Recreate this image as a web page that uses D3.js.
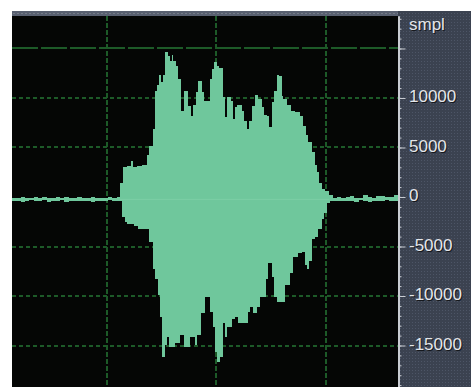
<!DOCTYPE html>
<html>
<head>
<meta charset="utf-8">
<script src="https://cdn.jsdelivr.net/npm/d3@7"></script>
<style>
  html, body { margin: 0; padding: 0; background: #ffffff; overflow: hidden; }
  svg { display: block; }
</style>
</head>
<body>
<svg id="chart" width="471" height="387"></svg>
<script>
// Peak envelope of the recording: each step starts at the given time (ms)
// and holds the positive / negative peak sample value until the next step.
const upperTimes = [
  13.2, 17, 21, 25, 29, 33, 37, 41, 45, 49, 53, 57, 61, 65, 69, 73, 77, 81, 85, 89, 93, 97, 101, 105, 109,
  111.9, 114.3, 118.0, 121.6, 123.5, 127.1, 131.7, 136.3, 138.6, 141.7, 143.8, 145.9, 147.8, 149.0, 150.9,
  153.0, 156.0, 157.5, 159.1, 160.5, 162.8, 165.1, 167.3, 170.3, 174.2, 176.4, 178.3, 181.3, 183.4, 186.5,
  188.6, 194.1, 195.6, 197.7, 200.2, 202.6, 205.7, 207.8, 209.3, 213.0, 214.8, 216.9, 218.4, 223.0, 225.1,
  227.6, 230.0, 232.1, 235.2, 238.2, 241.3, 243.4, 245.8, 248.2, 250.4, 252.5, 255.0, 257.4, 259.5, 261.0,
  264.1, 267.8, 271.7, 276.3, 279.3, 281.7, 283.8, 287.0, 290.0, 292.1, 293.9, 296.1, 299.1, 303.0,
  306.7, 310, 314, 318, 322, 326, 330, 334, 338, 342, 346, 350, 354, 358, 362, 365.8
];
const upperPeaks = [
  -60, -120, -20, -90, -150, -40, -100, 10, -80, -130, -50, -110, -30, -140, -70, -20, -120, -90, -40, -150, -60, -100, -10, -80, -50,
  1460, 2980, 3080, 3590, 2980, 3080, 3280, 4290, 5100, 6820, 10660, 11360, 12370, 11570, 12370,
  14600, 14190, 13690, 14390, 13690, 13180, 11870, 8640, 10660, 9140, 8130, 9340, 10560, 11670, 10560,
  9650, 11870, 12880, 13590, 13180, 12980, 10050, 8030, 10050, 9650, 7830, 9040, 9340, 8640, 7630,
  6820, 7630, 9140, 10350, 9850, 9040, 8330, 8130, 7020, 9550, 10660, 12370, 12270, 10150, 9850,
  9340, 8640, 8540, 8130, 7120, 6310, 5510, 4500, 3280, 2480, 1460, 760, 560, 250,
  -80, -20, -110, -40, 120, -60, -130, 200, -30, -100, 90, 150, -50, -20, 250, 250
];
const lowerTimes = [
  13.2, 17, 21, 25, 29, 33, 37, 41, 45, 49, 53, 57, 61, 65, 69, 73, 77, 81, 85, 89, 93, 97, 101, 105, 109,
  113.4, 116.4, 118.3, 124.7, 128.3, 138.6, 142.3, 143.8, 146.8, 148.4, 149.9, 153.0, 155.1, 156.9, 162.1,
  166.7, 170.3, 175.8, 180.4, 182.5, 185.6, 189.5, 194.1, 196.5, 198.6, 200.7, 203.2, 205.7, 207.8, 209.9,
  213.9, 216.9, 220.0, 229.0, 230.6, 233.6, 236.7, 239.7, 245.2, 247.3, 250.4, 252.5, 255.5, 262.6, 267.1,
  270.1, 274.7, 277.8, 280.8, 282.9, 284.7, 286.9, 290.0, 293.0, 296.1, 298.2, 300.6, 303.6,
  306.7, 310, 314, 318, 322, 326, 330, 334, 338, 342, 346, 350, 354, 358, 362, 365.8
];
const lowerPeaks = [
  -420, -360, -470, -380, -330, -450, -400, -350, -460, -390, -420, -340, -480, -370, -410, -450, -360, -430, -470, -380, -400, -440, -350, -420, -390,
  -1970, -2480, -2680, -2880, -3280, -4500, -7320, -8330, -9850, -12070, -16210, -14900, -14090, -15200, -14700,
  -13890, -15200, -14090, -14900, -13890, -11670, -10050, -11570, -13180, -15610, -16620, -16210, -12680, -14190, -13180,
  -12370, -12170, -12680, -11570, -11160, -11670, -11160, -10050, -8330, -6620, -8030, -10150, -10560, -8840, -7630,
  -6010, -5610, -5510, -6820, -7320, -6510, -4290, -4090, -3280, -2270, -1570, -560, -420,
  -400, -450, -360, -430, -380, -470, -340, -420, -460, -370, -430, -390, -350, -440, -400, -400
];

// Visible window of the editor: time span (ms) and sample range
const viewTime = [13.2, 365.8];
const viewSamples = [18280, -19190];
const dcOffset = -240;

const gridTimes = [100, 200, 300];
const gridSamples = [15000, 10000, 5000, -5000, -10000, -15000];
const majorTicks = [15000, 10000, 5000, 0, -5000, -10000, -15000];
const labelTicks = [10000, 5000, 0, -5000, -10000, -15000];
const labelText = ["10000", "5000", "0", "-5000", "-10000", "-15000"];
const unitLabel = "smpl";

// ---- layout ----
const plot = { left: 12, right: 398, top: 16, bottom: 387 };
const svg = d3.select("#chart");

const defs = svg.append("defs");
const panelPat = defs.append("pattern").attr("id", "panelDots")
  .attr("width", 3).attr("height", 3).attr("patternUnits", "userSpaceOnUse");
panelPat.append("rect").attr("width", 3).attr("height", 3).attr("fill", "#3b4250");
panelPat.append("rect").attr("x", 1).attr("y", 1).attr("width", 1).attr("height", 1).attr("fill", "#4d5566");

const stripPat = defs.append("pattern").attr("id", "stripDots")
  .attr("width", 4).attr("height", 3).attr("patternUnits", "userSpaceOnUse");
stripPat.append("rect").attr("width", 4).attr("height", 3).attr("fill", "#596070");
stripPat.append("rect").attr("x", 1).attr("y", 1).attr("width", 2).attr("height", 1).attr("fill", "#747b88");

// top strip and right-hand ruler panel
svg.append("rect").attr("x", plot.left).attr("y", 11).attr("width", 471 - plot.left).attr("height", plot.top - 11)
  .attr("fill", "url(#stripDots)");
svg.append("rect").attr("x", plot.right).attr("y", 11).attr("width", 471 - plot.right).attr("height", 387 - 11)
  .attr("fill", "url(#panelDots)");

// waveform background
svg.append("rect").attr("x", plot.left).attr("y", plot.top)
  .attr("width", plot.right - plot.left).attr("height", plot.bottom - plot.top)
  .attr("fill", "#050605");

const x = d3.scaleLinear().domain(viewTime).range([plot.left, plot.right]);
const y = d3.scaleLinear().domain(viewSamples).range([plot.top, plot.bottom]);

// grid
const grid = svg.append("g").attr("stroke", "#1d5a28").attr("stroke-width", 2).attr("fill", "none");
grid.selectAll("line.h").data(gridSamples).join("line")
  .attr("class", "h")
  .attr("x1", plot.left).attr("x2", plot.right)
  .attr("y1", d => Math.round(y(d))).attr("y2", d => Math.round(y(d)))
  .attr("stroke-dasharray", d => d === 15000 ? "26,3" : "4,3");
grid.selectAll("line.v").data(gridTimes).join("line")
  .attr("class", "v")
  .attr("x1", d => Math.round(x(d))).attr("x2", d => Math.round(x(d)))
  .attr("y1", plot.top).attr("y2", plot.bottom)
  .attr("stroke-dasharray", "5,2");

// waveform envelope
const upper = upperTimes.map((t, i) => ({ t, v: upperPeaks[i] }));
const lower = lowerTimes.map((t, i) => ({ t, v: lowerPeaks[i] }));
const waveFill = "#6fc79c";

const upperArea = d3.area().curve(d3.curveStepAfter)
  .x(d => x(d.t)).y0(y(dcOffset)).y1(d => y(d.v));
const lowerArea = d3.area().curve(d3.curveStepAfter)
  .x(d => x(d.t)).y0(y(dcOffset)).y1(d => y(d.v));

const wave = svg.append("g").attr("shape-rendering", "crispEdges");
wave.append("path").datum(upper).attr("d", upperArea).attr("fill", waveFill);
wave.append("path").datum(lower).attr("d", lowerArea).attr("fill", waveFill);

// bias line through the waveform
svg.append("line")
  .attr("x1", x(upperTimes[25])).attr("x2", x(upperTimes[upperTimes.length - 17]))
  .attr("y1", y(dcOffset)).attr("y2", y(dcOffset))
  .attr("stroke", "#7ccfa6").attr("stroke-width", 1);

// right-hand sample ruler
const minorTicks = d3.range(-19000, 18001, 1000);
const rulerColor = "#c9ccd2";
const axisX = plot.right + 0.5;

const minorAxis = d3.axisRight(y).tickValues(minorTicks).tickSize(3).tickSizeOuter(0).tickFormat("");
const majorAxis = d3.axisRight(y).tickValues(majorTicks).tickSize(7).tickSizeOuter(0).tickFormat("");

const gMinor = svg.append("g").attr("transform", `translate(${axisX},0)`).call(minorAxis);
const gMajor = svg.append("g").attr("transform", `translate(${axisX},0)`).call(majorAxis);
[gMinor, gMajor].forEach(g => {
  g.selectAll("line").attr("stroke", rulerColor).attr("stroke-width", 1);
  g.select(".domain").attr("stroke", rulerColor).attr("stroke-width", 2);
});

const labelFont = "'Liberation Sans', Arial, sans-serif";
const labels = svg.append("g").attr("font-family", labelFont).attr("font-size", 17);
const labelData = labelTicks.map((v, i) => ({ v, text: labelText[i] }));

function drawLabel(sel, dx, dy, color) {
  sel.selectAll(null).data(labelData).join("text")
    .attr("x", 409 + dx).attr("y", d => y(d.v) + 4.3 + dy)
    .attr("fill", color).text(d => d.text);
  sel.append("text").attr("x", 409 + dx).attr("y", 30 + dy).attr("fill", color).text(unitLabel);
}
drawLabel(labels.append("g"), 1, 1, "#15181d");
drawLabel(labels.append("g"), 0, 0, "#e4e6ea");
</script>
</body>
</html>
